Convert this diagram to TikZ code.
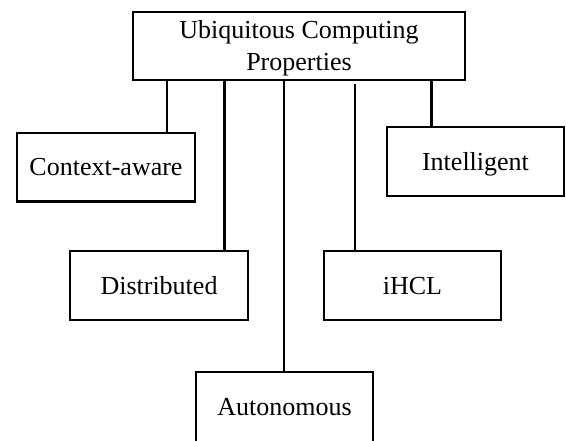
\documentclass[tikz,border=0pt]{standalone}
\usepackage{fontspec}
\setmainfont{Liberation Serif}
\begin{document}
\begin{tikzpicture}[x=1pt,y=-1pt,
  every node/.style={font=\fontsize{26}{32}\selectfont},
  box/.style={draw,line width=2.5pt,inner sep=0pt,align=center,text height=17.5pt,text depth=0pt},
  conn/.style={line width=2.5pt}]
\useasboundingbox (0,0) rectangle (566,441);
\clip (0,0) rectangle (566,441);
\node[box,minimum width=332pt,minimum height=68pt,text height=49.5pt] (top) at (299,46) {Ubiquitous Computing\\Properties};
\node[box,minimum width=178pt,minimum height=68.5pt] (ctx) at (106,167.25) {Context-aware};
\node[box,minimum width=177pt,minimum height=69pt] (intel) at (475.5,161.5) {Intelligent};
\node[box,minimum width=178pt,minimum height=69pt] (dist) at (159,285.5) {Distributed};
\node[box,minimum width=177pt,minimum height=69pt] (ihcl) at (412.5,285.5) {iHCL};
\node[box,minimum width=177pt,minimum height=80pt,text depth=9.5pt] (auto) at (284.5,412) {Autonomous};
\coordinate (x1) at (167,0);
\coordinate (x2) at (224.5,0);
\coordinate (x3) at (284,0);
\coordinate (x4) at (355,0);
\coordinate (x5) at (431.3,0);
\draw[conn] (top.south -| x1) -- (ctx.north -| x1);
\draw[conn] (top.south -| x2) -- (dist.north -| x2);
\draw[conn] (top.south -| x3) -- (auto.north -| x3);
\draw[conn,shorten <=3pt] (top.south -| x4) -- (ihcl.north -| x4);
\draw[conn] (top.south -| x5) -- (intel.north -| x5);
\end{tikzpicture}
\end{document}
